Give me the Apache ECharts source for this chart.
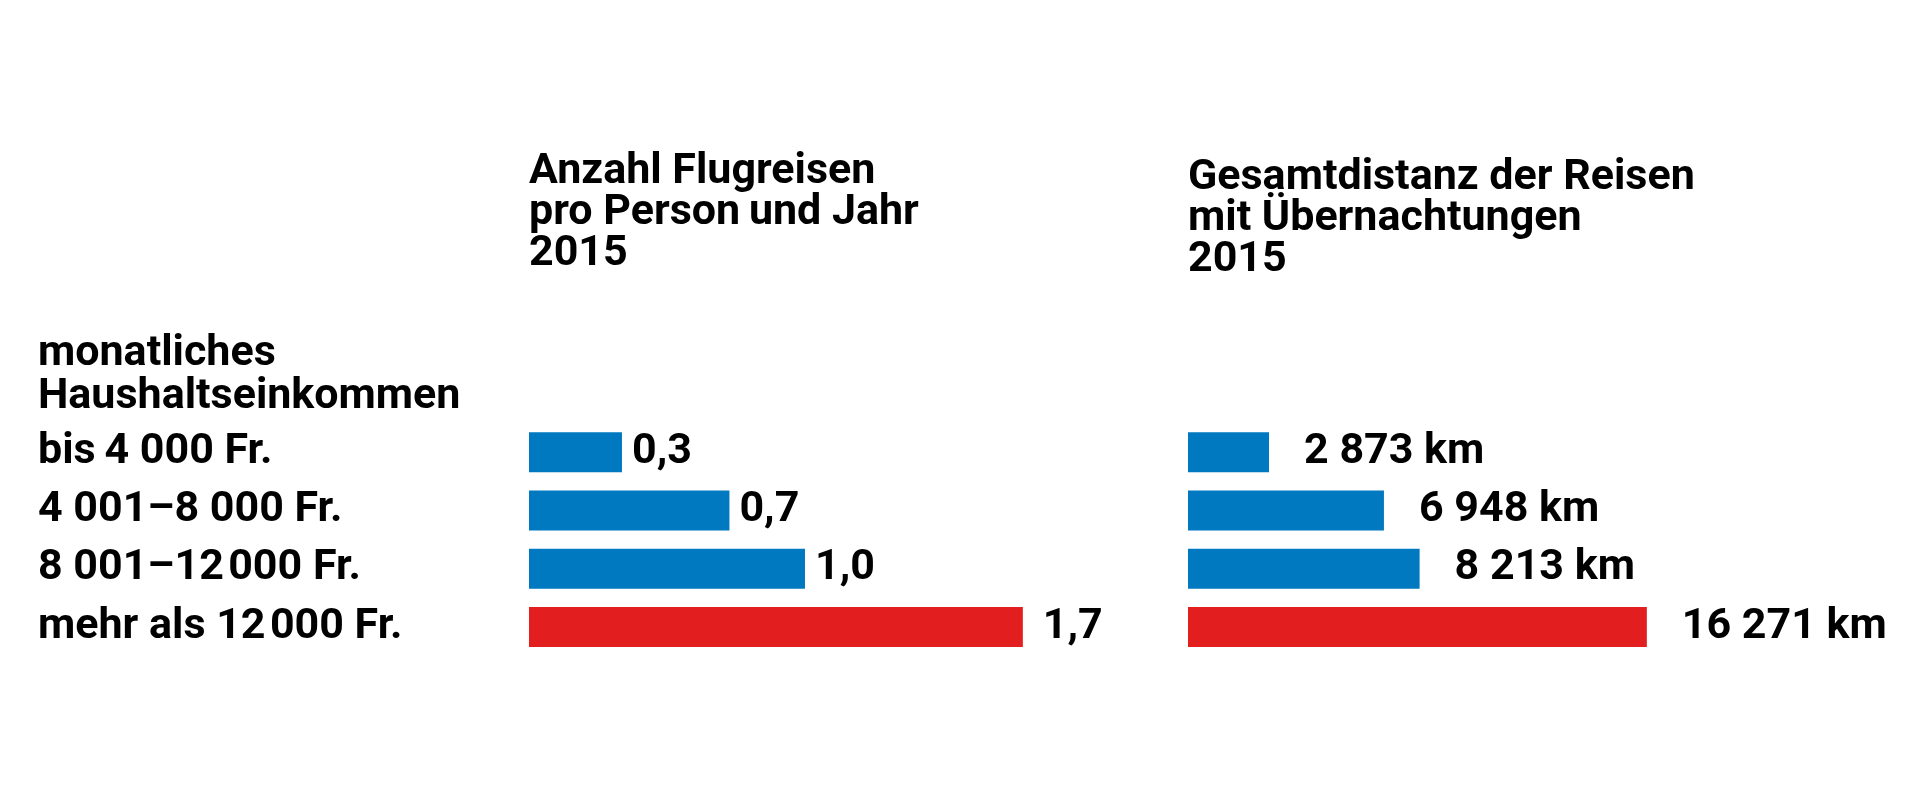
<!DOCTYPE html>
<html>
<head>
<meta charset="utf-8">
<script src="https://cdn.jsdelivr.net/npm/echarts@6/dist/echarts.min.js"></script>
<style>
html,body{margin:0;padding:0;background:#fff;}
#chart{width:1920px;height:800px;}
</style>
</head>
<body>
<div id="chart"></div>
<script>
// ---- data ----
const categories = ['bis\u20094 000 Fr.', '4 001–8 000 Fr.', '8 001–12\u200A000 Fr.', 'mehr als 12\u200A000 Fr.'];
const flights = [0.32, 0.69, 0.95, 1.70];          // Anzahl Flugreisen pro Person und Jahr
const distance = [2873, 6948, 8213, 16271];        // Gesamtdistanz in km
const highlight = [false, false, false, true];
const title1 = 'Anzahl Flugreisen\npro Person\u2009und Jahr\n2015';
const title2 = 'Gesamtdistanz der Reisen\nmit Übernachtungen\n2015';
const rowHeader = 'monatliches\nHaushaltseinkommen';

const BLUE = '#0079c1', RED = '#e31e1e', INK = '#000';
const FONT = 'Roboto';

function colorOf(i){ return highlight[i] ? RED : BLUE; }
function fmtDec(v){ return (Math.round(v*10)/10).toFixed(1).replace('.', ','); }
function fmtKm(v){ return String(v).replace(/\B(?=(\d{3})+(?!\d))/g, ' ') + ' km'; }

const chart = echarts.init(document.getElementById('chart'), null, {renderer:'canvas'});
const txt = {fontFamily: FONT, fontWeight: 'bold', fontSize: 43, color: INK};

chart.setOption({
  backgroundColor: '#fff',
  animation: false,
  title: [
    {text: title1, left: 529, top: 152, padding: 0, textStyle: Object.assign({lineHeight: 41}, txt)},
    {text: title2, left: 1188, top: 158, padding: 0, textStyle: Object.assign({lineHeight: 41}, txt)},
    {text: rowHeader, left: 38, top: 333, padding: 0, textStyle: Object.assign({lineHeight: 43}, txt)}
  ],
  grid: [
    {left: 529, top: 423, width: 581, height: 233},
    {left: 1188, top: 423, width: 564, height: 233}
  ],
  xAxis: [
    {gridIndex: 0, type: 'value', min: 0, max: 2, show: false},
    {gridIndex: 1, type: 'value', min: 0, max: 20000, show: false}
  ],
  yAxis: [
    {gridIndex: 0, type: 'category', data: categories, inverse: true,
     axisLine: {show: false}, axisTick: {show: false}, splitLine: {show: false},
     axisLabel: Object.assign({align: 'left', margin: 491}, txt)},
    {gridIndex: 1, type: 'category', data: categories, inverse: true, show: false}
  ],
  series: [
    {type: 'bar', xAxisIndex: 0, yAxisIndex: 0, barWidth: 40,
     data: flights.map((v, i) => ({value: v, itemStyle: {color: colorOf(i)},
       label: {distance: highlight[i] ? 20 : 10}})),
     label: Object.assign({show: true, position: 'right', formatter: p => fmtDec(p.value)}, txt)},
    {type: 'bar', xAxisIndex: 1, yAxisIndex: 1, barWidth: 40,
     data: distance.map((v, i) => ({value: v, itemStyle: {color: colorOf(i)}})),
     label: Object.assign({show: true, position: 'right', distance: 35, formatter: p => fmtKm(p.value)}, txt)}
  ]
});
</script>
</body>
</html>
